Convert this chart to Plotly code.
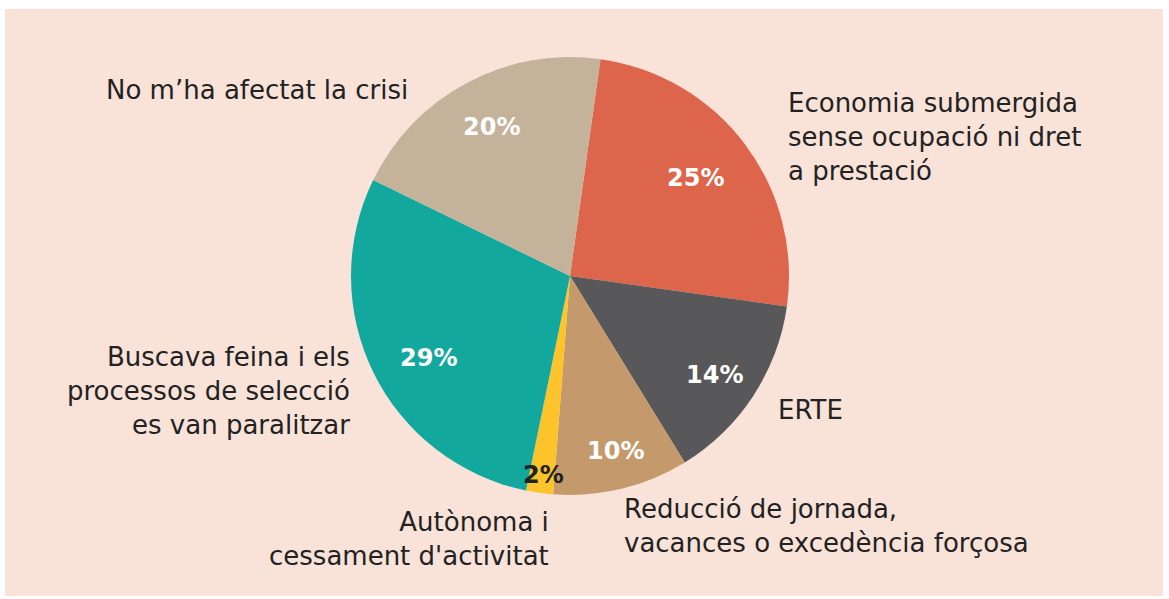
import plotly.graph_objects as go

# data
categories = [
    "Economia submergida sense ocupació ni dret a prestació",
    "ERTE",
    "Reducció de jornada, vacances o excedència forçosa",
    "Autònoma i cessament d'activitat",
    "Buscava feina i els processos de selecció es van paralitzar",
    "No m’ha afectat la crisi",
]
values = [25, 14, 10, 2, 29, 20]
colors = ["#dd654b", "#58585a", "#c4996c", "#fcc42a", "#13a89e", "#c4b39a"]
pct_colors = ["white", "white", "white", "#222222", "white", "white"]

# label texts (as shown around the pie)
label_texts = [
    "Economia submergida<br>sense ocupació ni dret<br>a prestació",
    "ERTE",
    "Reducció de jornada,<br>vacances o excedència forçosa",
    "Autònoma i<br>cessament d'activitat",
    "Buscava feina i els<br>processos de selecció<br>es van paralitzar",
    "No m’ha afectat la crisi",
]

W, H = 1169, 599
BG = "#f9e3d9"
FONT = "DejaVu Sans"

fig = go.Figure()

fig.add_trace(go.Pie(
    labels=categories,
    values=values,
    sort=False,
    direction="clockwise",
    rotation=8,
    marker=dict(colors=colors, line=dict(width=0)),
    textinfo="none",
    hoverinfo="label+percent",
    showlegend=False,
    domain=dict(x=[350 / W, 790 / W], y=[1 - 495 / H, 1 - 57 / H]),
))

def px(x, y):
    return x / W, 1 - y / H

annotations = []

# percentage labels
pct_pos = [(695, 178), (714, 375), (615, 451), (543, 475), (428, 358), (491, 127)]
for v, (x, y), c in zip(values, pct_pos, pct_colors):
    ax, ay = px(x, y)
    annotations.append(dict(
        x=ax, y=ay, xref="paper", yref="paper", text=f"<b>{v}%</b>",
        xanchor="center", yanchor="middle",
        showarrow=False, font=dict(family=FONT, size=24, color=c),
    ))

# category labels: (x, y, xanchor, align)
label_pos = [
    (786, 137, "left", "left"),
    (776, 410, "left", "left"),
    (622, 526, "left", "left"),
    (551, 539, "right", "right"),
    (352, 391, "right", "right"),
    (410, 90, "right", "right"),
]
for t, (x, y, xa, al) in zip(label_texts, label_pos):
    ax, ay = px(x, y)
    annotations.append(dict(
        x=ax, y=ay, xref="paper", yref="paper", text=t,
        xanchor=xa, yanchor="middle", align=al,
        showarrow=False, font=dict(family=FONT, size=26, color="#222222"),
    ))

fig.update_layout(
    width=W, height=H,
    margin=dict(l=0, r=0, t=0, b=0),
    paper_bgcolor="white",
    plot_bgcolor="white",
    annotations=annotations,
    shapes=[dict(
        type="rect", xref="paper", yref="paper", layer="below",
        x0=5 / W, x1=1163 / W, y0=1 - 596 / H, y1=1 - 9 / H,
        fillcolor=BG, line=dict(width=0),
    )],
)

fig.write_html(
    "out.html",
    config={"displayModeBar": False},
    post_script="document.body.style.margin='0';",
)
